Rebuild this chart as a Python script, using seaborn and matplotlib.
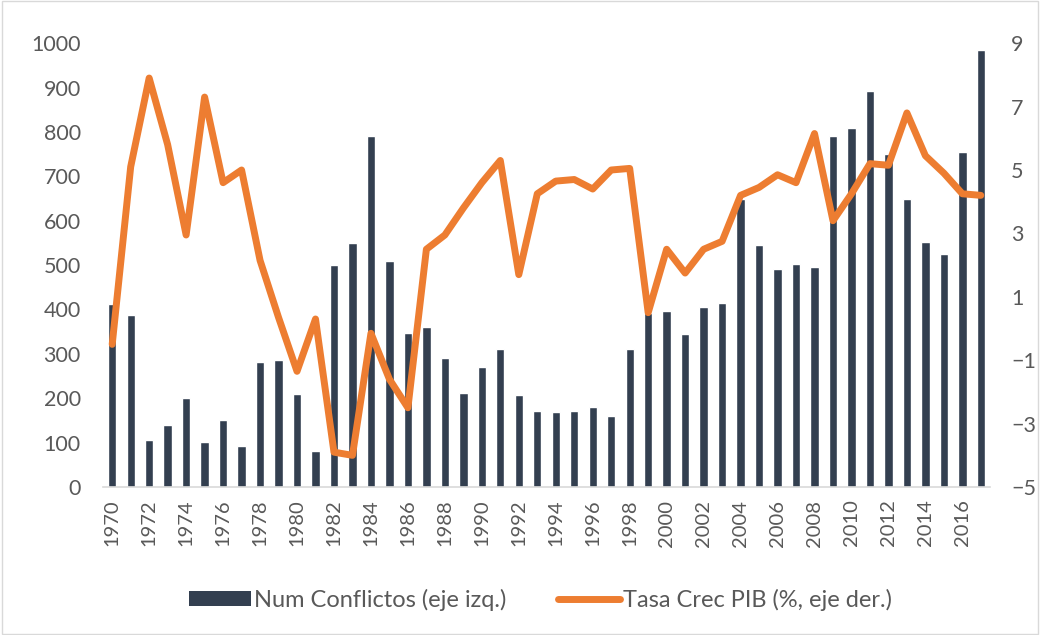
import numpy as np
import pandas as pd
import matplotlib
matplotlib.use("Agg")
import matplotlib.pyplot as plt
import seaborn as sns
from matplotlib.patches import Patch
from matplotlib.lines import Line2D

years = list(range(1970, 2018))
conflictos = [412, 388, 105, 140, 200, 102, 152, 93, 282, 287,
              210, 82, 500, 550, 790, 510, 348, 360, 290, 212,
              270, 310, 207, 172, 168, 172, 180, 160, 310, 392,
              397, 345, 405, 415, 650, 545, 492, 503, 495, 790,
              810, 893, 750, 650, 553, 525, 755, 985]
pib = [-0.5, 5.1, 7.9, 5.8, 2.95, 7.3, 4.6, 5.0, 2.15, 0.35,
       -1.35, 0.3, -3.9, -4.0, -0.15, -1.6, -2.5, 2.5, 2.95, 3.8,
       4.6, 5.3, 1.7, 4.25, 4.65, 4.7, 4.4, 5.0, 5.05, 0.5,
       2.5, 1.75, 2.5, 2.75, 4.2, 4.45, 4.85, 4.6, 6.15, 3.4,
       4.25, 5.2, 5.15, 6.8, 5.45, 4.9, 4.25, 4.2]
label_bar = "Num Conflictos (eje izq.)"
label_line = "Tasa Crec PIB (%, eje der.)"

df = pd.DataFrame({"year": years, "conf": conflictos, "pib": pib})

sns.set_theme(style="white")
plt.rcParams['font.family'] = ['Lato', 'DejaVu Sans']

bar_color = "#333F50"
line_color = "#ED7D31"
txt_color = "#595959"

fig = plt.figure(figsize=(10.4, 6.35), dpi=100)
ax = fig.add_axes([0.099, 0.233, 0.853, 0.699])
sns.barplot(data=df, x="year", y="conf", native_scale=True, width=0.45,
            color=bar_color, saturation=1, ax=ax, zorder=2)
ax2 = ax.twinx()
sns.lineplot(data=df, x="year", y="pib", color=line_color, linewidth=5,
             ax=ax2, zorder=3, solid_joinstyle="round", solid_capstyle="round")

ax.set_xlim(1969.5, 2017.5)
ax.set_ylim(0, 1000)
ax2.set_ylim(-5, 9)
ax.set_yticks(range(0, 1001, 100))
ax2.set_yticks(range(-5, 10, 2))
ax.set_xticks(list(range(1970, 2018, 2)))
ax.set_xticklabels([str(y) for y in range(1970, 2018, 2)], rotation=90)
ax.set_xticks(np.arange(1969.5, 2018, 1), minor=True)
ax.tick_params(axis="x", which="major", length=0, pad=9, labelsize=14.5, labelcolor=txt_color)
ax.tick_params(axis="x", which="minor", length=6, width=1, color="#D9D9D9", direction="out")
ax.tick_params(axis="y", length=0, labelsize=15.5, labelcolor=txt_color, pad=16)
ax2.tick_params(axis="y", length=0, labelsize=15.5, labelcolor=txt_color, pad=15)
for a in (ax, ax2):
    a.set_xlabel("")
    a.set_ylabel("")
    for s in a.spines.values():
        s.set_visible(False)
    a.grid(False)
ax.spines["bottom"].set_visible(True)
ax.spines["bottom"].set_color("#D9D9D9")
ax.spines["bottom"].set_linewidth(1.2)

handles = [Patch(facecolor=bar_color, edgecolor="none", label=label_bar),
           Line2D([0], [0], color=line_color, linewidth=5, label=label_line)]
fig.legend(handles=handles, loc="center", bbox_to_anchor=(0.52, 0.055), ncol=2,
           frameon=False, fontsize=17, labelcolor=txt_color, handlelength=2.6,
           handleheight=0.6, columnspacing=2.2, handletextpad=0.15)

fig.patches.append(plt.Rectangle((0.002, 0.002), 0.996, 0.996, transform=fig.transFigure,
                                 fill=False, edgecolor="#D9D9D9", linewidth=1))
fig.savefig("out.png", dpi=100)
